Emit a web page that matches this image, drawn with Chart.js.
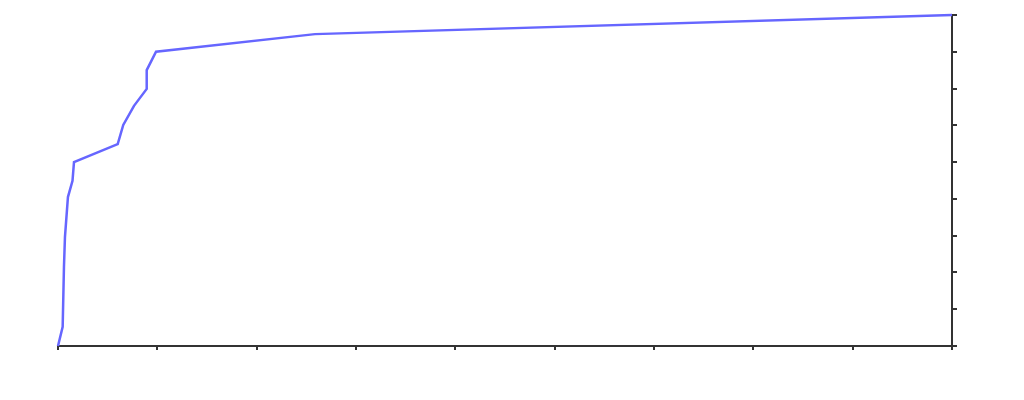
<!DOCTYPE html>
<html>
<head>
<meta charset="utf-8">
<script src="https://cdn.jsdelivr.net/npm/chart.js@4"></script>
<style>
html,body{margin:0;padding:0;background:#fff;}
#wrap{width:1024px;height:400px;}
</style>
</head>
<body>
<div id="wrap"><canvas id="c" width="1024" height="400"></canvas></div>
<script>
const xValues = [0, 0.047, 0.06, 0.07, 0.10, 0.146, 0.161, 0.601, 0.657, 0.765, 0.893, 0.893, 0.987, 2.587, 9.0];
const yValues = [0, 0.52, 2.15, 2.96, 4.05, 4.49, 5.0, 5.49, 6.01, 6.53, 6.99, 7.5, 8.0, 8.48, 9.0];
const xMin = 0, xMax = 9, yMin = 0, yMax = 9;

const points = xValues.map((x, i) => ({x: x, y: yValues[i]}));

new Chart(document.getElementById('c'), {
  type: 'line',
  data: {
    datasets: [{
      data: points,
      borderColor: '#6666ff',
      borderWidth: 2.5,
      pointRadius: 0,
      tension: 0,
      fill: false,
      clip: false
    }]
  },
  options: {
    responsive: false,
    animation: false,
    layout: {padding: {left: 58, top: 15, right: 0, bottom: 0}},
    plugins: {legend: {display: false}, tooltip: {enabled: false}},
    scales: {
      x: {
        type: 'linear',
        min: xMin, max: xMax,
        ticks: {display: false, stepSize: 1},
        grid: {drawOnChartArea: false, drawTicks: true, tickLength: 4, color: '#333333', lineWidth: 2},
        border: {display: true, color: '#333333', width: 2},
        afterFit: s => { s.height = 54; }
      },
      y: {
        type: 'linear',
        position: 'right',
        min: yMin, max: yMax,
        ticks: {display: false, stepSize: 1},
        grid: {drawOnChartArea: false, drawTicks: true, tickLength: 5, color: '#333333', lineWidth: 2},
        border: {display: true, color: '#333333', width: 2},
        afterFit: s => { s.width = 72; }
      }
    }
  }
});
</script>
</body>
</html>
